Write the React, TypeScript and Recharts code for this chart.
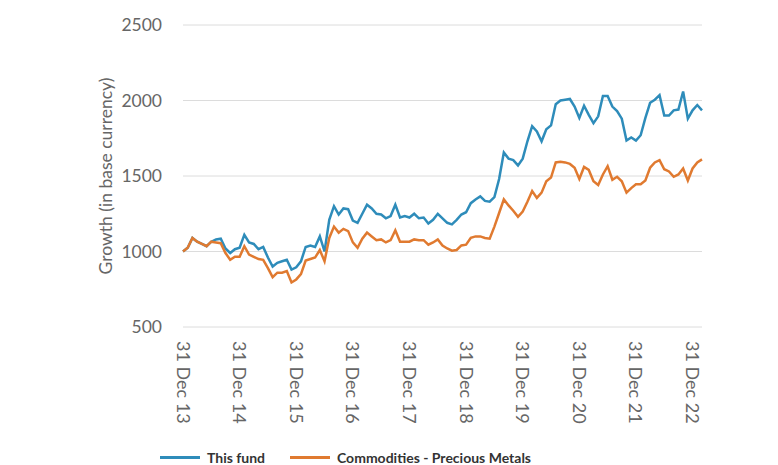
import React from 'react';
import { LineChart, Line, XAxis, YAxis, CartesianGrid } from 'recharts';

const monthNames = ['Jan', 'Feb', 'Mar', 'Apr', 'May', 'Jun', 'Jul', 'Aug', 'Sep', 'Oct', 'Nov', 'Dec'];

const fundValues = [
  1000, 1025, 1090, 1065, 1050, 1035, 1065, 1080, 1085, 1020, 990, 1015, 1025,
  1110, 1060, 1050, 1015, 1030, 960, 900, 925, 935, 945, 880, 895,
  935, 1030, 1040, 1030, 1100, 1000, 1210, 1300, 1245, 1285, 1280, 1205,
  1190, 1250, 1310, 1285, 1250, 1245, 1220, 1235, 1310, 1225, 1235, 1225,
  1250, 1220, 1225, 1185, 1210, 1250, 1220, 1190, 1180, 1210, 1245, 1260,
  1320, 1345, 1365, 1335, 1330, 1360, 1480, 1655, 1615, 1605, 1570, 1615,
  1730, 1830, 1795, 1730, 1810, 1835, 1975, 2000, 2005, 2010, 1960, 1885,
  1965, 1905, 1850, 1895, 2030, 2030, 1960, 1930, 1880, 1735, 1755, 1735,
  1770, 1885, 1985, 2005, 2035, 1900, 1900, 1935, 1940, 2060, 1880, 1935, 1970, 1935,
];

const benchmarkValues = [
  1000, 1025, 1090, 1065, 1050, 1035, 1065, 1060, 1055, 990, 945, 965, 965,
  1035, 980, 965, 950, 945, 890, 830, 860, 860, 870, 795, 815,
  850, 940, 950, 960, 1010, 935, 1090, 1165, 1125, 1150, 1135, 1060,
  1025, 1085, 1125, 1100, 1075, 1080, 1060, 1075, 1140, 1065, 1065, 1065,
  1080, 1075, 1075, 1045, 1060, 1080, 1040, 1020, 1005, 1010, 1040, 1045,
  1090, 1100, 1100, 1090, 1085, 1165, 1255, 1345, 1305, 1270, 1230, 1265,
  1330, 1400, 1355, 1390, 1465, 1490, 1590, 1595, 1590, 1580, 1555, 1480,
  1560, 1540, 1465, 1440, 1510, 1565, 1475, 1495, 1465, 1390, 1420, 1445,
  1445, 1470, 1555, 1590, 1605, 1545, 1530, 1495, 1510, 1550, 1470, 1550, 1590, 1610,
];

const yTicks = [500, 1000, 1500, 2000, 2500];
const xTickLabels = ['31 Dec 13', '31 Dec 14', '31 Dec 15', '31 Dec 16', '31 Dec 17', '31 Dec 18', '31 Dec 19', '31 Dec 20', '31 Dec 21', '31 Dec 22'];
const seriesNames = ['This fund', 'Commodities - Precious Metals'];
const seriesColors = ['#2e8cba', '#e07a30'];

// month categories starting Dec 2013
const categories = fundValues.map((_, i) => {
  const m = (11 + i) % 12;
  const y = 13 + Math.floor((11 + i) / 12);
  return `${monthNames[m]} ${y}`;
});

const data = categories.map((c, i) => ({
  month: c,
  fund: fundValues[i],
  bench: benchmarkValues[i],
}));

const FONT = 'Lato, "Open Sans", sans-serif';

const RotatedTick = (props: any) => {
  const { x, y, payload } = props;
  const value: string = payload?.value ?? '';
  const yr = value.split(' ')[1];
  const label = xTickLabels.find((t) => t.endsWith(' ' + yr)) ?? '';
  return (
    <text
      transform={`translate(${x},${y + 14}) rotate(90)`}
      x={0}
      y={0}
      dy="0.36em"
      textAnchor="start"
      fill="#666"
      fontSize={18}
      fontFamily={FONT}
    >
      {label}
    </text>
  );
};

export default function App() {
  return (
    <div style={{ position: 'absolute', left: 0, top: 0, width: 778, height: 465, background: '#fff', fontFamily: FONT }}>
      <LineChart width={778} height={465} data={data} margin={{ top: 25, right: 76, bottom: 0, left: 0 }}>
        <CartesianGrid vertical={false} stroke="#dcdcdc" strokeWidth={1} />
        <XAxis
          dataKey="month"
          interval={11}
          axisLine={false}
          tickLine={false}
          tickSize={0}
          tickMargin={0}
          height={138}
          tick={<RotatedTick />}
        />
        <YAxis
          domain={[500, 2500]}
          ticks={yTicks}
          axisLine={false}
          tickLine={false}
          tickSize={0}
          tickMargin={21}
          width={183}
          tick={{ fill: '#666', fontSize: 17.5, fontFamily: FONT }}
          label={{ value: 'Growth (in base currency)', angle: -90, position: 'center', dx: 14, fill: '#666', fontSize: 17.5, fontFamily: FONT }}
        />
        <Line type="linear" dataKey="fund" name={seriesNames[0]} stroke={seriesColors[0]} strokeWidth={2.5} dot={false} isAnimationActive={false} />
        <Line type="linear" dataKey="bench" name={seriesNames[1]} stroke={seriesColors[1]} strokeWidth={2.5} dot={false} isAnimationActive={false} />
      </LineChart>
      {seriesNames.map((name, i) => (
        <div
          key={name}
          style={{
            position: 'absolute',
            left: i === 0 ? 160 : 290,
            top: 449,
            height: 16,
            display: 'flex',
            alignItems: 'center',
            whiteSpace: 'nowrap',
          }}
        >
          <span style={{ display: 'inline-block', width: 40, height: 3, background: seriesColors[i], marginRight: 7 }} />
          <span style={{ fontSize: 14, fontWeight: 700, color: '#333', fontFamily: FONT }}>{name}</span>
        </div>
      ))}
    </div>
  );
}
